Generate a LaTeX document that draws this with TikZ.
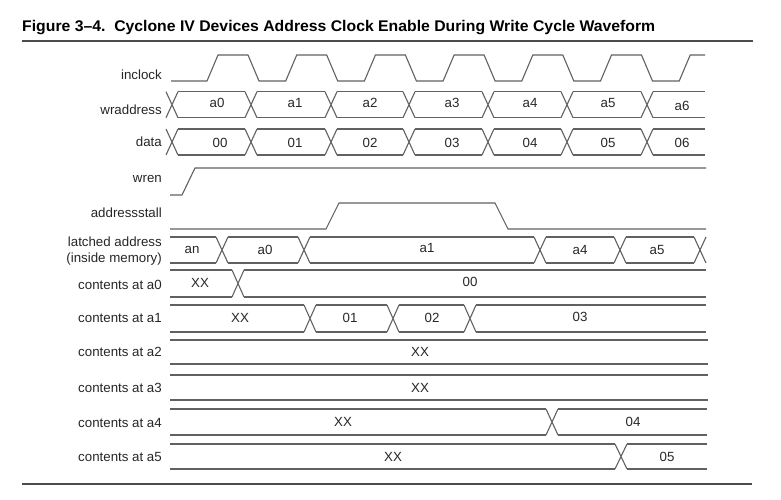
\documentclass[tikz,border=0pt]{standalone}
\usepackage{fontspec}
\setmainfont{Liberation Sans}
\usepackage{graphicx}
\usepackage{tikz}
\newcommand{\xhw}{6}
% bus row: centre y, half height, start x, end x, crossings
\newcommand{\busrow}[5]{%
  \draw[wave] (#3,#1-#2) -- (#4,#1-#2) (#3,#1+#2) -- (#4,#1+#2);
  \foreach \c in {#5} {
    \fill[white] (\c-\xhw,#1-#2-1) rectangle (\c+\xhw,#1+#2+1);
    \draw[wave] (\c-\xhw,#1-#2) -- (\c+\xhw,#1+#2) (\c-\xhw,#1+#2) -- (\c+\xhw,#1-#2);
  }}
\tikzset{
  wave/.style={line width=1.1pt, draw=black!62, line join=miter},
  signame/.style={anchor=east, inner sep=0pt, font=\fontsize{13.3}{16}\selectfont, text=black!85},
  val/.style={inner sep=0pt, font=\fontsize{13.3}{16}\selectfont, text=black!85},
  rule/.style={line width=1.6pt, draw=black!70}
}
\begin{document}
\begin{tikzpicture}[x=1pt,y=-1pt]
  \useasboundingbox (0,0) rectangle (781,499);
  % title and rules
  \node[anchor=base west, inner sep=0pt] (title) at (22,31)
    {\resizebox{633pt}{11.2pt}{\bfseries Figure 3–4.\ \ Cyclone IV Devices Address Clock Enable During Write Cycle Waveform}};
  \draw[rule] (22,41) -- (753,41);
  \draw[rule] (22,484) -- (752,484);

  % signal names
  \node[signame] (inclock) at (162,75) {inclock};
  \node[signame] (wraddress) at (162,110) {wraddress};
  \node[signame] (data) at (162,142) {data};
  \node[signame] (wren) at (162,179) {wren};
  \node[signame] (addressstall) at (162,213) {addressstall};
  \node[signame, align=right] (latched) at (162,251) {latched address\\(inside memory)};
  \foreach \n/\y in {0/285,1/318,2/352,3/388,4/423,5/457}
    \node[signame] (cont\n) at (162,\y) {contents at a\n};

  % waveforms
  \draw[wave] (171,81) \foreach \k in {0,...,5} {
      -- ({207+78.7*\k},81) -- ({218+78.7*\k},55) -- ({248+78.7*\k},55) -- ({259+78.7*\k},81) }
    -- (679.2,81) -- (690.2,55) -- (705,55);
  \busrow{104.7}{13}{166}{705}{172,251,331,409,488,567,647}
  \busrow{142}{13}{166}{705}{172,251,331,409,488,567,647}
  \draw[wave] (170,195) -- (182,195) -- (195,168) -- (706,168);
  \draw[wave] (170,229) -- (326,229) -- (339,203) -- (495,203) -- (508,229) -- (706,229);
  \busrow{250}{13}{170}{706}{222,304,540,620,700}
  \busrow{283.5}{13.5}{170}{706}{238}
  \busrow{318.5}{13.5}{170}{706}{310,393,470}
  \draw[wave] (170,340) -- (708,340) (170,364) -- (708,364);
  \draw[wave] (170,375) -- (708,375) (170,400) -- (708,400);
  \busrow{422}{13}{170}{707}{552}
  \busrow{456.5}{12.5}{170}{707}{621}

  % bus values
  \foreach \v/\x in {0/217,1/295,2/370,3/452,4/530,5/608}
    \node[val] (wa\v) at (\x,103) {a\v};
  \node[val] (wa6) at (682,106) {a6};
  \foreach \v/\x in {0/220,1/295,2/370,3/452,4/530,5/608,6/682}
    \node[val] (d\v) at (\x,142.5) {0\v};
  \node[val] (lan) at (192,249.5) {an};
  \node[val] (la0) at (265,249.5) {a0};
  \node[val] (la1) at (427,248) {a1};
  \node[val] (la4) at (580,249.5) {a4};
  \node[val] (la5) at (657,249.5) {a5};
  \node[val] (cxx0) at (200,283) {XX};
  \node[val] (c00) at (470,281.5) {00};
  \node[val] (cxx1) at (240,318) {XX};
  \node[val] (c01) at (350,318) {01};
  \node[val] (c02) at (432,318) {02};
  \node[val] (c03) at (580,316.5) {03};
  \node[val] (cxx2) at (420,352) {XX};
  \node[val] (cxx3) at (420,387.5) {XX};
  \node[val] (cxx4) at (343,422) {XX};
  \node[val] (c04) at (633,422) {04};
  \node[val] (cxx5) at (393,456.5) {XX};
  \node[val] (c05) at (667,456.5) {05};
\end{tikzpicture}
\end{document}
